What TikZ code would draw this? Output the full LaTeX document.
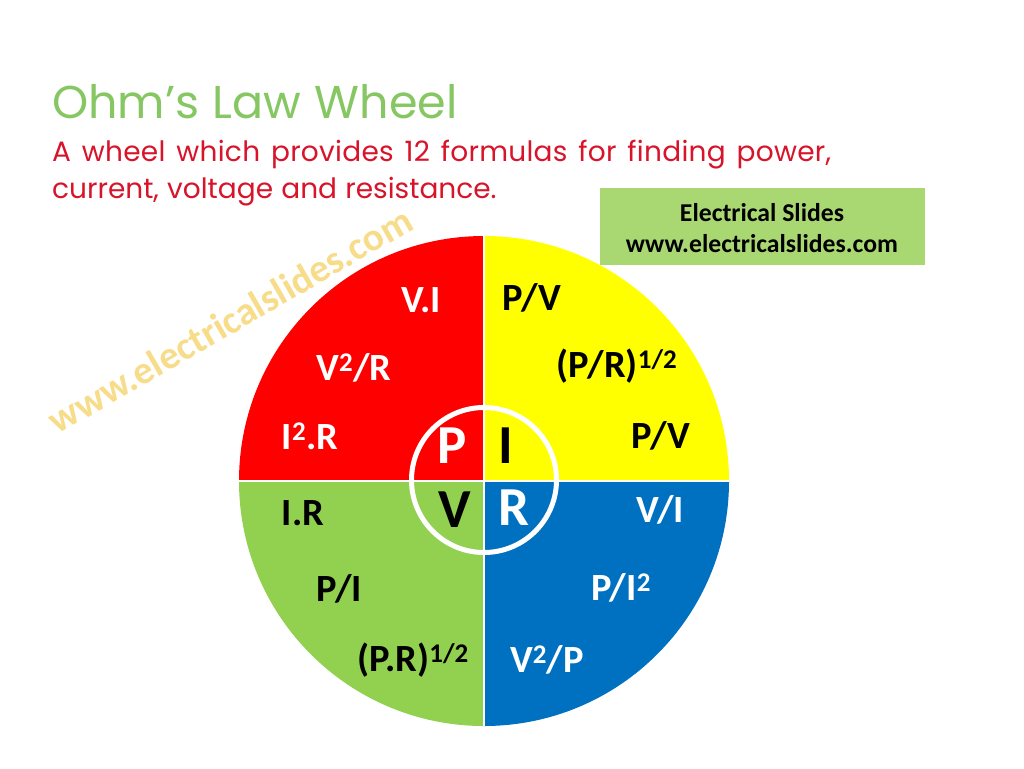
\documentclass[tikz,border=0pt]{standalone}
\usepackage{fontspec}
\setmainfont{Carlito}
\newfontfamily\titlefont[WordSpace=1.3]{Poppins}
\newfontfamily\subfont[LetterSpace=1.0,WordSpace=1.4]{Poppins}
\newfontfamily\subtwofont[WordSpace=1.1]{Poppins}
\definecolor{wred}{HTML}{FF0000}
\definecolor{wyellow}{HTML}{FFFF00}
\definecolor{wgreen}{HTML}{92D050}
\definecolor{wblue}{HTML}{0070C0}
\definecolor{titlegreen}{HTML}{86C763}
\definecolor{subred}{HTML}{D8142A}
\definecolor{boxgreen}{HTML}{A9D873}
\definecolor{mark}{HTML}{F7DC8A}
\tikzset{
  x=1pt,y=-1pt,
  formula/.style={font=\fontsize{38.5}{38.5}\selectfont\bfseries,inner sep=0pt,anchor=center},
  whitef/.style={formula,text=white},
  blackf/.style={formula,text=black},
  centreletter/.style={font=\fontsize{55}{55}\selectfont\bfseries,inner sep=0pt,anchor=center},
}
\newcommand{\sq}{\textsuperscript{2}}
\newcommand{\half}{\textsuperscript{1/2}}
\begin{document}
\begin{tikzpicture}
\useasboundingbox (0,0) rectangle (1024,768);
\fill[white] (0,0) rectangle (1024,768);
% wheel
\fill[wred]    (484,481) -- (239,481) arc[start angle=180,end angle=90,radius=245pt] -- cycle;
\fill[wyellow] (484,481) -- (484,236) arc[start angle=90,end angle=0,radius=245pt] -- cycle;
\fill[wblue]   (484,481) -- (729,481) arc[start angle=0,end angle=-90,radius=245pt] -- cycle;
\fill[wgreen]  (484,481) -- (484,726) arc[start angle=-90,end angle=-180,radius=245pt] -- cycle;
\draw[white,line width=1.2pt] (239,481) -- (729,481) (484,236) -- (484,726);
\draw[white,line width=5pt] (484,480) circle[radius=72.5pt];
% headings
\node[anchor=west,inner sep=0pt,text=titlegreen,font=\titlefont\fontsize{46}{46}\selectfont] (title) at (52,102) {Ohm’s Law Wheel};
\node[anchor=west,inner sep=0pt,text=subred,font=\subfont\fontsize{28}{28}\selectfont] (sub1) at (52,155) {A wheel which provides 12 formulas for finding power,};
\node[anchor=west,inner sep=0pt,text=subred,font=\subtwofont\fontsize{28}{28}\selectfont] (sub2) at (52,192) {current, voltage and resistance.};
% watermark
\node[rotate=30,text=mark,inner sep=0pt,font=\fontsize{39}{39}\selectfont\bfseries] (wm) at (230,320) {www.electricalslides.com};
% box
\fill[boxgreen] (600,188) rectangle (925,265);
\node[align=center,inner sep=0pt,text=black,font=\fontsize{25.7}{31}\selectfont\bfseries] (box) at (762,228) {Electrical Slides\\www.electricalslides.com};
% formulas
\node[whitef] (a1) at (421,300) {V.I};
\node[whitef] (a2) at (354,368) {V\sq/R};
\node[whitef] (a3) at (310,436) {I\sq.R};
\node[blackf] (b1) at (532,298) {P/V};
\node[blackf] (b2) at (617,366) {(P/R)\half};
\node[blackf] (b3) at (661,436) {P/V};
\node[whitef] (c1) at (660,510) {V/I};
\node[whitef] (c2) at (621,588) {P/I\sq};
\node[whitef] (c3) at (547,660) {V\sq/P};
\node[blackf] (d1) at (303,513) {I.R};
\node[blackf] (d2) at (339,589) {P/I};
\node[blackf] (d3) at (413,660) {(P.R)\half};
% centre letters
\node[centreletter,text=white] (P) at (452,446) {P};
\node[centreletter,text=black] (I) at (506,446) {I};
\node[centreletter,text=black] (V) at (455,510) {V};
\node[centreletter,text=white] (R) at (514,508) {R};
\end{tikzpicture}
\end{document}
